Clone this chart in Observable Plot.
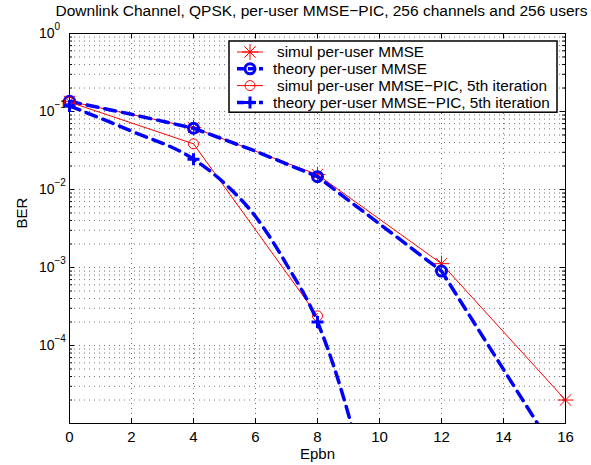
<!DOCTYPE html>
<html>
<head>
<meta charset="utf-8">
<script src="https://cdn.jsdelivr.net/npm/d3@7"></script>
<script src="https://cdn.jsdelivr.net/npm/@observablehq/plot@0.6"></script>
<style>
  html, body { margin: 0; padding: 0; background: #fff; }
  svg { display: block; }
</style>
</head>
<body>
<div id="chart"></div>
<script>
// ---------------- data ----------------
const titleText = "Downlink Channel, QPSK, per-user MMSE\u2212PIC, 256 channels and 256 users";
const xLabel = "Epbn";
const yLabel = "BER";

// simulation points (every 4 dB)
const simX = [0, 4, 8, 12, 16];
const simulMMSE = [0.135, 0.062, 0.0155, 0.00112, 0.00002];
const simPicX = [0, 4, 8];
const simulPIC = [0.132, 0.0385, 0.00024];

// theory curves
const theoryMMSEX = [0, 2, 4, 6, 8, 12, 16];
const theoryMMSE = [0.135, 0.092, 0.061, 0.031, 0.0146, 0.00090, 0.0000027];
const theoryMMSEMarkX = [0, 4, 8, 12];
const theoryMMSEMark = [0.135, 0.061, 0.0146, 0.00090];

const theoryPICX = [0, 2, 4, 5, 6, 7, 8, 9, 10];
const theoryPIC = [0.118, 0.056, 0.0245, 0.012, 0.0045, 0.0011, 0.0002, 0.000013, 0.0000003];
const theoryPICMarkX = [0, 4, 8];
const theoryPICMark = [0.118, 0.0245, 0.0002];

const legendLabels = [
  "simul per-user MMSE",
  "theory per-user MMSE",
  "simul per-user MMSE\u2212PIC, 5th iteration",
  "theory per-user MMSE\u2212PIC, 5th iteration"
];

// axes
const xTicks = [0, 2, 4, 6, 8, 10, 12, 14, 16];
const yMajor = [1, 0.1, 0.01, 0.001, 0.0001, 0.00001];
const yLabelTicks = [1, 0.1, 0.01, 0.001, 0.0001];
const yLabelExp = ["0", "\u22121", "\u22122", "\u22123", "\u22124"];
const yMinor = [];
for (const dec of [1e-5, 1e-4, 1e-3, 1e-2, 1e-1]) for (const m of [2,3,4,5,6,7,8,9]) yMinor.push(+(m*dec).toPrecision(3));

// ---------------- styles ----------------
const RED = "#ff0000", BLUE = "#0000ff";
const FONT = "'Liberation Sans', Arial, Helvetica, sans-serif";

const asteriskSym = {draw(ctx, size) {
  const r = Math.sqrt(size / Math.PI), d = r * Math.SQRT1_2;
  ctx.moveTo(-r, 0); ctx.lineTo(r, 0);
  ctx.moveTo(0, -r); ctx.lineTo(0, r);
  ctx.moveTo(-d, -d); ctx.lineTo(d, d);
  ctx.moveTo(-d, d); ctx.lineTo(d, -d);
}};
const plusSym = {draw(ctx, size) {
  const r = Math.sqrt(size / Math.PI);
  ctx.moveTo(-r, 0); ctx.lineTo(r, 0);
  ctx.moveTo(0, -r); ctx.lineTo(0, r);
}};

const series = [
  {line: {stroke: RED, strokeWidth: 1}, mark: {symbol: asteriskSym, r: 8, stroke: RED, strokeWidth: 1, fill: "none"}},
  {line: {stroke: BLUE, strokeWidth: 3.5, strokeDasharray: "11,7"}, mark: {symbol: "circle", r: 5, stroke: BLUE, strokeWidth: 3, fill: "none"}},
  {line: {stroke: RED, strokeWidth: 1}, mark: {symbol: "circle", r: 5, stroke: RED, strokeWidth: 1, fill: "none"}},
  {line: {stroke: BLUE, strokeWidth: 3.5, strokeDasharray: "11,7"}, mark: {symbol: plusSym, r: 6, stroke: BLUE, strokeWidth: 3, fill: "none"}}
];

const W = 591, H = 465;
const mT = 33, mL = 69, mR = 26, mB = 42;
const iW = W - mL - mR, iH = H - mT - mB;

const pts = (xs, ys) => xs.map((x, i) => ({x, y: ys[i]}));
const gridStyle = {stroke: "#000", strokeOpacity: 0.55, strokeDasharray: "1,4", strokeWidth: 1};
const major = 5, minor = 3;

const chart = Plot.plot({
  width: W, height: H,
  marginTop: mT, marginLeft: mL, marginRight: mR, marginBottom: mB,
  style: {fontFamily: FONT, fontSize: "15px", background: "#fff", color: "#000"},
  x: {domain: [0, 16], axis: null},
  y: {type: "log", domain: [1e-5, 1], axis: null},
  marks: [
    // grid
    Plot.ruleX(xTicks.slice(1, -1), gridStyle),
    Plot.ruleY(yMinor, gridStyle),
    Plot.ruleY(yMajor.slice(1, -1), gridStyle),
    // ticks (inward, all four sides)
    Plot.ruleX(xTicks, {insetTop: iH - major, stroke: "#000"}),
    Plot.ruleX(xTicks, {insetBottom: iH - major, stroke: "#000"}),
    Plot.ruleY(yMajor, {insetRight: iW - major, stroke: "#000"}),
    Plot.ruleY(yMajor, {insetLeft: iW - major, stroke: "#000"}),
    Plot.ruleY(yMinor, {insetRight: iW - minor, stroke: "#000"}),
    Plot.ruleY(yMinor, {insetLeft: iW - minor, stroke: "#000"}),
    // series lines
    Plot.line(pts(simX, simulMMSE), {x: "x", y: "y", ...series[0].line, clip: true}),
    Plot.dot(pts(simX, simulMMSE), {x: "x", y: "y", ...series[0].mark}),
    Plot.line(pts(theoryMMSEX, theoryMMSE), {x: "x", y: "y", ...series[1].line, clip: true}),
    Plot.dot(pts(theoryMMSEMarkX, theoryMMSEMark), {x: "x", y: "y", ...series[1].mark}),
    Plot.line(pts(simPicX, simulPIC), {x: "x", y: "y", ...series[2].line, clip: true}),
    Plot.dot(pts(simPicX, simulPIC), {x: "x", y: "y", ...series[2].mark}),
    Plot.line(pts(theoryPICX, theoryPIC), {x: "x", y: "y", ...series[3].line, clip: true, curve: "monotone-x"}),
    Plot.dot(pts(theoryPICMarkX, theoryPICMark), {x: "x", y: "y", ...series[3].mark}),
    // frame
    Plot.frame({stroke: "#000", strokeWidth: 1}),
    // axis tick labels
    Plot.text(xTicks, {x: d => d, text: d => String(d), frameAnchor: "bottom", dy: 14, lineAnchor: "middle", fontSize: 15}),
    Plot.text(yLabelTicks, {y: d => d, text: () => "10", frameAnchor: "left", dx: -15, textAnchor: "end", lineAnchor: "middle", fontSize: 14}),
    Plot.text(yLabelTicks, {y: d => d, text: (d, i) => yLabelExp[i], frameAnchor: "left", dx: -15, dy: -7, textAnchor: "start", lineAnchor: "middle", fontSize: 10}),
    // axis titles and title
    Plot.text([xLabel], {frameAnchor: "bottom", dy: 31, lineAnchor: "middle", fontSize: 15}),
    Plot.text([yLabel], {frameAnchor: "left", dx: -47, rotate: -90, lineAnchor: "middle", fontSize: 15}),
    Plot.text([titleText], {frameAnchor: "top", dy: -22, dx: 4, lineAnchor: "middle", fontSize: 15.5})
  ]
});

// ---------------- legend (inside the axes, top-right) ----------------
const svg = d3.select(chart);
const lg = svg.append("g").attr("font-family", FONT).attr("font-size", 15.3).attr("text-anchor", "start");
const bx0 = mL + 160, bx1 = W - mR - 8, by0 = mT + 8, rowH = 16.8;
const by1 = by0 + rowH * legendLabels.length + 4;
lg.append("rect").attr("x", bx0).attr("y", by0).attr("width", bx1 - bx0).attr("height", by1 - by0)
  .attr("fill", "#fff").attr("stroke", "#000").attr("stroke-width", 1.5);
const symPath = (sym, r) => {
  const s = typeof sym === "string" ? d3.symbolCircle : sym;
  return d3.symbol(s, r * r * Math.PI)();
};
legendLabels.forEach((lab, i) => {
  const cy = by0 + 11 + i * rowH;
  const st = series[i];
  lg.append("line").attr("x1", bx0 + 8).attr("x2", bx0 + 34).attr("y1", cy).attr("y2", cy)
    .attr("stroke", st.line.stroke).attr("stroke-width", st.line.strokeWidth)
    .attr("stroke-dasharray", st.line.strokeDasharray ? "7,4" : null);
  lg.append("path").attr("d", symPath(st.mark.symbol, st.mark.r)).attr("transform", `translate(${bx0 + 21},${cy})`)
    .attr("fill", "none").attr("stroke", st.mark.stroke).attr("stroke-width", st.mark.strokeWidth);
  lg.append("text").attr("x", bx0 + (i % 2 === 0 ? 48 : 44)).attr("y", cy).attr("dy", "0.35em").text(lab);
});

document.getElementById("chart").appendChild(chart);
</script>
</body>
</html>
